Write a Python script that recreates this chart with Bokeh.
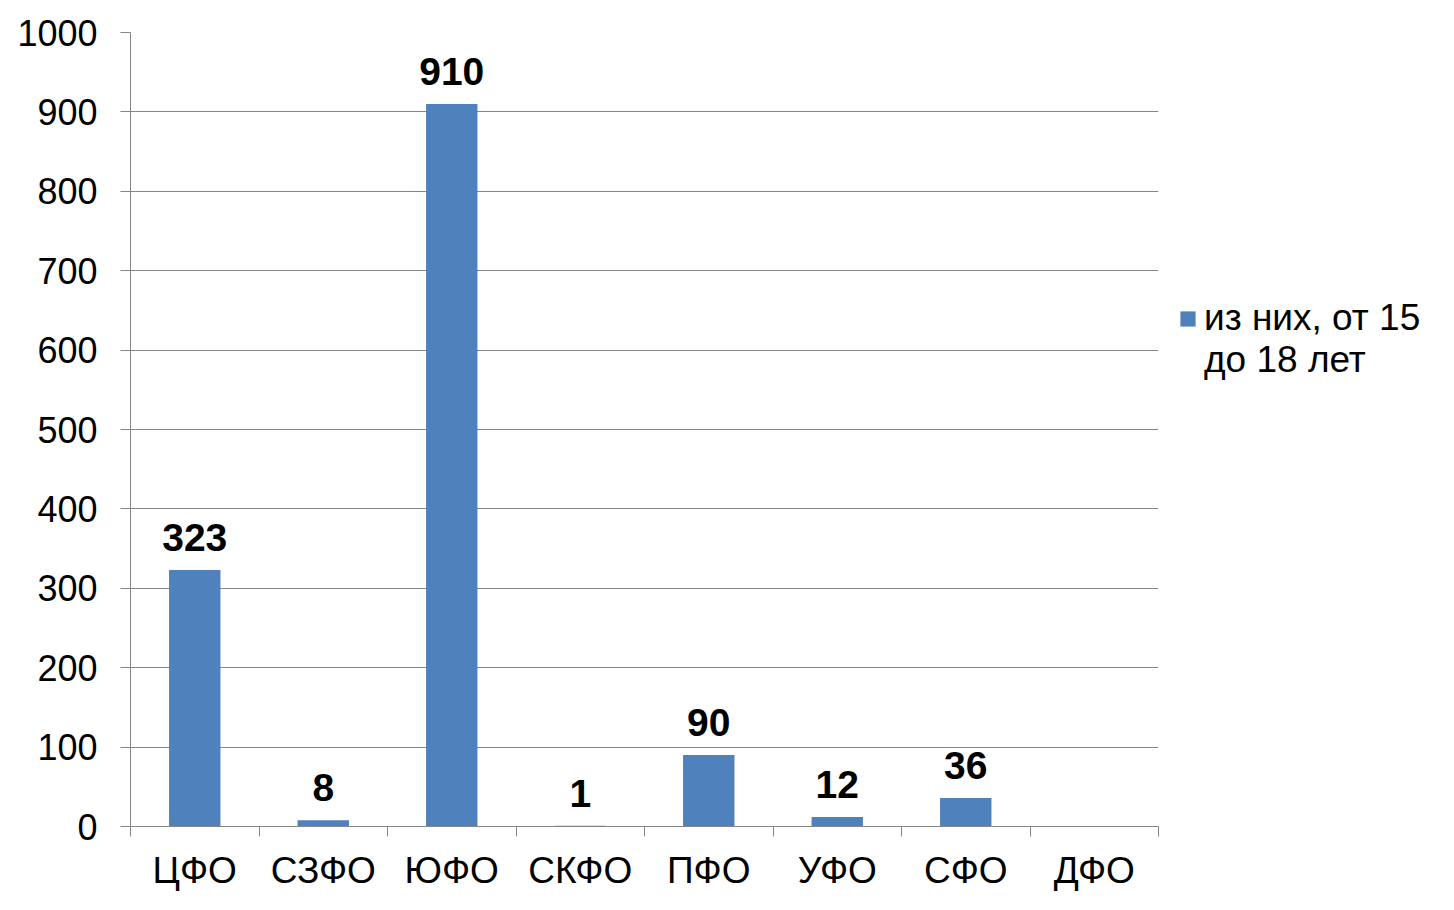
from bokeh.plotting import figure
from bokeh.models import (ColumnDataSource, FixedTicker, Range1d,
                          LabelSet, Legend, LegendItem)
from bokeh.core.properties import value
from bokeh.embed import file_html
from bokeh.resources import INLINE

categories = ["ЦФО", "СЗФО", "ЮФО", "СКФО", "ПФО", "УФО", "СФО", "ДФО"]
values = [323, 8, 910, 1, 90, 12, 36, None]
series_name = "из них, от 15\nдо 18 лет"
y_ticks = [0, 100, 200, 300, 400, 500, 600, 700, 800, 900, 1000]

FONT = "Liberation Sans"
GRAY = "#868686"
BAR = "#4F81BD"

x = [i + 0.5 for i in range(len(categories))]
top = [float("nan") if v is None else v for v in values]
src = ColumnDataSource(dict(x=x, top=top))

lab_x = [xi for xi, v in zip(x, values) if v is not None]
lab_y = [v for v in values if v is not None]
lab_t = [str(v) for v in values if v is not None]
lab_src = ColumnDataSource(dict(x=lab_x, y=lab_y, label=lab_t))

p = figure(frame_width=1028, frame_height=794,
           output_backend="svg", toolbar_location=None,
           x_range=Range1d(0, len(categories)), y_range=Range1d(0, 1000),
           min_border_left=130, min_border_right=40,
           min_border_top=32, min_border_bottom=76)
p.outline_line_color = None
p.background_fill_color = "white"
p.border_fill_color = "white"
p.xgrid.grid_line_color = None

r = p.vbar(x="x", top="top", bottom=0, width=0.4, source=src,
           fill_color=BAR, line_color=None)

# y axis
yax = p.yaxis[0]
yax.ticker = FixedTicker(ticks=y_ticks, minor_ticks=[])
yax.axis_line_color = GRAY
yax.major_tick_line_color = GRAY
yax.major_tick_out = 10
yax.major_tick_in = 0
yax.minor_tick_line_color = None
yax.major_label_text_font = FONT
yax.major_label_text_font_size = "36px"
yax.major_label_text_color = "black"
yax.major_label_standoff = 23
p.ygrid.ticker = FixedTicker(ticks=y_ticks, minor_ticks=[])
p.ygrid.grid_line_color = GRAY

# x axis: labels at category centres, tick marks at boundaries (minor ticks)
xax = p.xaxis[0]
xax.ticker = FixedTicker(ticks=x, minor_ticks=list(range(len(categories) + 1)))
xax.major_label_overrides = {xi: c for xi, c in zip(x, categories)}
xax.axis_line_color = GRAY
xax.major_tick_line_color = None
xax.major_tick_out = 0
xax.major_tick_in = 0
xax.minor_tick_line_color = GRAY
xax.minor_tick_out = 10
xax.minor_tick_in = 0
xax.major_label_text_font = FONT
xax.major_label_text_font_size = "37px"
xax.major_label_text_color = "black"
xax.major_label_standoff = 13

# data labels
ls = LabelSet(x="x", y="y", text="label", source=lab_src, y_offset=19,
              text_align="center", text_baseline="alphabetic",
              text_font=value(FONT), text_font_size=value("39px"),
              text_font_style=value("bold"), text_color=value("black"))
p.add_layout(ls)

# legend (two lines of the one series name)
line1, line2 = series_name.split("\n")
dummy = p.vbar(x=[], top=[], width=0.4, fill_alpha=0, line_alpha=0)
legend = Legend(items=[LegendItem(label=line1, renderers=[r]),
                       LegendItem(label=line2, renderers=[dummy])],
                location=(20, 445))
legend.border_line_color = None
legend.background_fill_alpha = 0
legend.padding = 0
legend.margin = 0
legend.spacing = -1
legend.glyph_width = 19
legend.glyph_height = 19
legend.label_standoff = 7
legend.label_text_font = FONT
legend.label_text_font_size = "37px"
legend.label_text_color = "black"
p.add_layout(legend, "right")

open("out.html", "w").write(file_html(p, INLINE))
